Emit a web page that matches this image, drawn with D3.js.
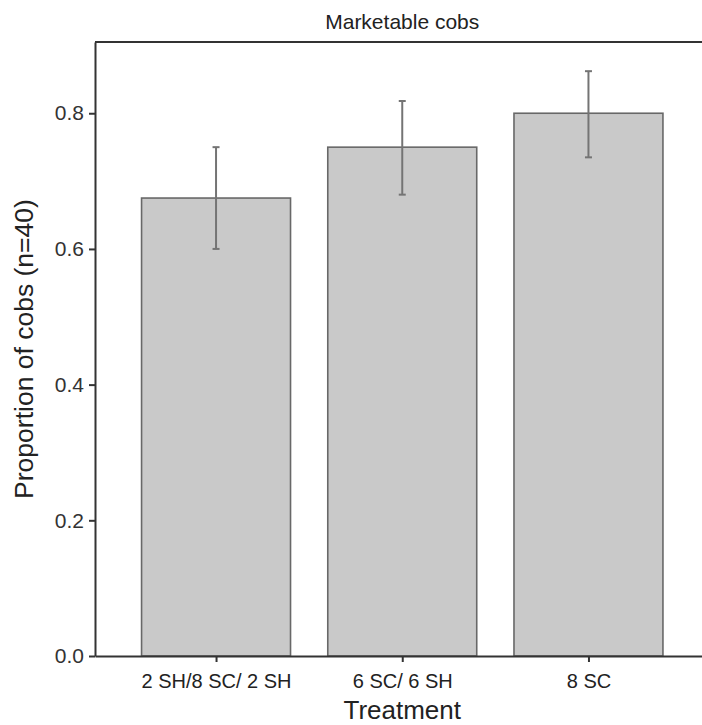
<!DOCTYPE html>
<html>
<head>
<meta charset="utf-8">
<script src="https://cdn.jsdelivr.net/npm/d3@7"></script>
<style>
  html, body { margin: 0; padding: 0; background: #fff; }
  svg { display: block; font-family: "Liberation Sans", Arial, sans-serif; }
</style>
</head>
<body>
<svg id="chart" width="702" height="725"></svg>
<script>
// Treatment groups and the proportion of marketable cobs in each
const treatments = ["2 SH/8 SC/ 2 SH", "6 SC/ 6 SH", "8 SC"];
const proportions = [0.675, 0.75, 0.80];
const errLow = [0.60, 0.68, 0.735];
const errHigh = [0.75, 0.818, 0.862];
const yTicks = [0.0, 0.2, 0.4, 0.6, 0.8];

const svg = d3.select("#chart");
const plotLeft = 95, plotRight = 709.5, plotTop = 42, plotBottom = 656;

const x = d3.scalePoint().domain(treatments).range([plotLeft, plotRight]).padding(0.65);
const y = d3.scaleLinear().domain([0, 0.905]).range([plotBottom, plotTop]);
const barW = x.step() * 0.8;

// Bars
svg.append("g").selectAll("rect")
  .data(treatments)
  .join("rect")
  .attr("x", d => x(d) - barW / 2)
  .attr("y", (d, i) => y(proportions[i]))
  .attr("width", barW)
  .attr("height", (d, i) => y(0) - y(proportions[i]))
  .attr("fill", "#c9c9c9")
  .attr("stroke", "#686868")
  .attr("stroke-width", 1.6);

// Error bars
const eb = svg.append("g").attr("stroke", "#747474").attr("stroke-width", 2);
treatments.forEach((t, i) => {
  const cx = x(t);
  eb.append("line").attr("x1", cx).attr("x2", cx).attr("y1", y(errLow[i])).attr("y2", y(errHigh[i]));
  [errLow[i], errHigh[i]].forEach(v => {
    eb.append("line").attr("x1", cx - 3.5).attr("x2", cx + 3.5).attr("y1", y(v)).attr("y2", y(v));
  });
});

// Frame (top and right edges)
svg.append("path")
  .attr("d", `M${plotLeft},${plotTop}H${plotRight}V${plotBottom}`)
  .attr("fill", "none").attr("stroke", "#333").attr("stroke-width", 2);

// Y axis
const yAxis = svg.append("g")
  .attr("transform", `translate(${plotLeft},0)`)
  .call(d3.axisLeft(y).tickValues(yTicks).tickFormat(d3.format(".1f")).tickSize(6).tickSizeOuter(0).tickPadding(5));
yAxis.select(".domain").attr("stroke", "#333").attr("stroke-width", 2);
yAxis.selectAll(".tick line").attr("stroke", "#333").attr("stroke-width", 2);
yAxis.selectAll(".tick text").attr("font-size", 21).attr("fill", "#333")
  .attr("font-family", "Liberation Sans, Arial, sans-serif");

// X axis
const xAxis = svg.append("g")
  .attr("transform", `translate(0,${plotBottom})`)
  .call(d3.axisBottom(x).tickSize(6).tickSizeOuter(0).tickPadding(12));
xAxis.select(".domain").attr("stroke", "#333").attr("stroke-width", 2);
xAxis.selectAll(".tick line").attr("stroke", "#333").attr("stroke-width", 2);
xAxis.selectAll(".tick text").attr("font-size", 20).attr("fill", "#222")
  .attr("font-family", "Liberation Sans, Arial, sans-serif");

// Title and axis labels
svg.append("text")
  .attr("x", (plotLeft + plotRight) / 2).attr("y", 29)
  .attr("text-anchor", "middle").attr("font-size", 21).attr("fill", "#222")
  .text("Marketable cobs");

svg.append("text")
  .attr("x", (plotLeft + plotRight) / 2).attr("y", 719)
  .attr("text-anchor", "middle").attr("font-size", 26).attr("fill", "#222")
  .text("Treatment");

svg.append("text")
  .attr("transform", `translate(33,${(plotTop + plotBottom) / 2}) rotate(-90)`)
  .attr("text-anchor", "middle").attr("font-size", 26.5).attr("fill", "#222")
  .text("Proportion of cobs (n=40)");
</script>
</body>
</html>
